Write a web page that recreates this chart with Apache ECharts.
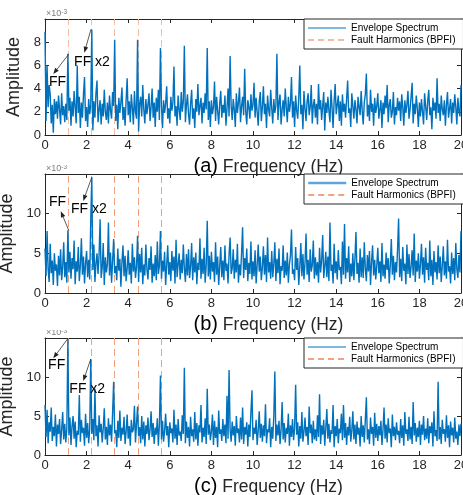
<!DOCTYPE html>
<html>
<head>
<meta charset="utf-8">
<script src="https://cdn.jsdelivr.net/npm/echarts@6/dist/echarts.min.js"></script>
<style>
  body { margin: 0; background: #fff; overflow: hidden; }
  .panel { position: absolute; left: 0; width: 463px; height: 180px; }
</style>
</head>
<body>
<div id="pa" class="panel" style="top:0"></div>
<div id="pb" class="panel" style="top:165px"></div>
<div id="pc" class="panel" style="top:330px;height:165px"></div>
<script>
// frequency step of the spectra (Hz), 0..20 Hz
var df = 0.05;
var xTicks = [0, 2, 4, 6, 8, 10, 12, 14, 16, 18, 20];
// BPFI fault harmonics (Hz)
var harmonics = [1.115, 2.23, 3.345, 4.46, 5.575];

// envelope spectra, amplitude x 10^-3, one row = 1 Hz
var specA = [
  8.9,1.2,6.0,2.4,4.3,3.5,1.0,2.6,0.2,3.1,1.8,2.9,1.4,3.4,2.2,0.9,3.6,1.7,2.5,1.1,
  2.7,1.3,7.0,2.1,3.2,0.8,2.9,1.6,3.8,2.4,1.0,6.0,1.9,3.3,0.6,2.8,1.5,3.5,5.0,1.2,
  2.4,0.7,3.1,1.8,2.6,9.1,0.4,2.9,1.5,3.6,4.7,1.1,2.2,3.0,0.9,2.7,1.6,3.9,2.0,1.3,
  2.8,1.0,3.4,2.1,1.4,3.7,2.5,8.2,1.2,2.6,0.5,3.2,1.9,2.8,4.1,1.3,2.4,0.8,3.0,4.9,
  1.7,2.9,1.1,3.5,2.3,0.9,3.8,2.0,1.4,8.2,0.3,2.7,3.3,1.6,4.3,2.2,1.0,3.1,1.8,2.6,
  3.6,1.2,2.4,4.0,1.5,2.8,0.7,3.2,2.0,3.9,1.3,7.5,2.5,0.6,3.0,1.9,2.7,4.2,1.4,2.3,
  1.0,3.3,2.1,2.8,5.9,1.6,2.5,0.8,3.4,2.2,1.3,3.7,2.0,2.9,7.7,1.1,2.6,3.5,1.8,0.9,
  2.7,3.9,1.4,2.3,0.6,3.1,2.0,4.4,1.7,2.5,3.2,1.0,2.8,1.9,3.6,2.2,7.5,1.3,2.9,0.7,
  3.0,1.8,2.4,4.6,1.2,3.3,2.1,0.9,2.7,3.8,1.5,2.6,1.9,3.4,0.8,2.3,4.0,1.6,6.8,2.5,
  1.3,3.1,2.2,0.7,3.6,1.9,2.8,4.1,1.1,2.5,3.3,1.7,5.7,2.0,0.9,3.0,2.4,1.4,3.5,2.1,
  2.6,4.5,1.5,3.2,2.0,0.8,2.9,3.7,1.2,2.4,4.2,1.8,2.7,0.6,3.4,2.2,1.6,3.9,2.3,1.0,
  3.1,1.9,2.5,7.0,1.3,2.8,3.5,0.9,2.2,3.0,1.6,4.0,2.4,1.1,3.3,2.0,2.7,5.0,1.5,2.9,
  0.7,3.4,2.1,1.4,3.2,6.0,1.8,2.6,0.5,3.8,2.3,1.2,2.9,3.6,1.7,2.4,4.3,1.0,2.6,3.1,
  1.5,2.7,0.9,4.4,2.2,3.0,1.3,2.5,3.7,0.4,2.8,1.9,3.3,2.1,1.1,3.9,2.4,0.6,2.9,4.4,
  1.8,2.6,3.4,1.2,2.9,0.8,3.5,2.0,2.7,1.5,3.1,4.7,1.9,2.3,0.7,3.6,2.5,1.4,3.0,2.2,
  1.0,3.3,2.4,1.7,3.8,2.1,0.9,2.8,3.5,5.3,1.6,2.6,1.2,3.9,2.0,2.7,0.8,3.2,1.9,2.5,
  3.6,1.4,2.2,3.0,0.6,2.8,1.8,3.4,2.3,4.3,1.1,2.6,3.1,1.5,2.0,3.7,0.9,2.4,1.7,3.2,
  2.1,2.9,1.2,3.5,2.4,0.8,3.0,1.9,2.6,3.8,1.4,2.2,3.3,4.5,1.0,2.7,1.8,3.4,2.3,0.7,
  2.8,1.6,3.1,2.0,0.9,3.6,2.5,1.3,2.9,3.9,1.7,2.4,0.5,3.2,2.1,2.8,1.4,4.9,1.9,2.7,
  1.2,3.4,2.2,1.7,3.0,0.8,2.6,3.7,1.5,2.3,3.1,1.0,2.8,1.9,3.5,2.4,0.9,3.2,2.0,1.6,
  4.3
];
var specB = [
  5.6,2.1,7.8,3.0,1.4,6.2,2.5,4.1,1.0,5.0,2.8,3.6,0.9,4.7,2.2,5.5,1.6,3.3,6.4,2.0,
  3.9,1.3,7.9,2.6,5.2,1.8,4.4,3.0,6.6,1.1,4.0,2.7,5.8,1.5,3.5,6.9,2.3,4.6,1.2,3.8,
  5.3,2.0,4.2,1.7,9.3,14.6,2.9,6.1,1.4,3.7,5.0,2.4,4.8,9.3,1.9,3.2,6.3,1.0,4.5,2.6,
  3.6,8.9,2.2,5.1,1.3,4.0,6.8,2.5,3.4,1.6,5.6,2.8,4.3,0.8,3.9,6.0,2.1,4.7,1.5,3.1,
  5.4,2.3,3.8,1.2,6.2,2.7,4.5,1.9,3.3,7.2,1.4,4.9,2.6,5.7,1.1,3.6,2.2,6.1,3.0,1.7,
  4.4,2.9,5.9,1.3,3.7,2.1,4.8,1.6,6.5,2.4,3.4,7.8,1.8,4.1,2.7,5.2,1.0,3.5,6.0,2.3,
  3.9,1.5,5.3,2.8,4.6,1.2,6.7,2.0,3.6,5.0,1.7,4.2,2.5,6.1,3.1,1.4,4.9,2.2,5.5,1.9,
  3.3,6.3,1.6,4.5,2.6,5.1,1.1,3.8,2.9,6.9,1.8,4.3,2.4,5.7,1.3,3.5,9.1,2.1,4.7,1.7,
  5.2,2.7,3.9,1.4,6.4,2.3,4.6,1.0,3.4,5.8,2.0,4.1,1.6,6.0,2.8,3.7,1.2,4.9,7.0,2.4,
  3.1,5.5,1.8,4.2,2.6,6.2,1.3,3.6,2.2,5.0,8.3,1.9,4.4,2.9,5.6,1.5,3.8,2.4,6.5,1.7,
  4.0,2.1,5.4,1.2,3.5,6.1,2.7,4.6,1.6,3.2,5.9,2.3,4.8,1.4,7.0,2.6,3.9,1.8,5.3,2.0,
  3.7,6.4,1.5,4.3,2.5,5.6,1.1,3.4,2.8,6.0,1.9,4.1,2.2,5.1,1.3,3.6,4.7,8.0,2.4,3.0,
  1.6,5.8,2.9,4.4,1.0,3.3,6.3,2.1,4.9,1.7,3.8,7.5,2.3,4.2,1.4,5.5,2.7,3.5,6.6,1.8,
  4.5,2.2,3.9,1.3,5.7,2.6,4.1,7.3,1.9,3.4,5.2,2.0,4.6,1.5,8.9,2.8,3.6,1.2,6.2,2.5,
  4.0,1.7,5.4,2.9,3.3,1.1,6.5,2.3,8.7,1.8,4.4,2.6,5.9,1.4,3.7,2.1,5.0,1.6,4.3,7.7,
  2.4,3.8,1.3,5.6,2.0,4.5,1.9,6.4,3.1,1.5,4.8,2.7,5.3,1.0,3.9,6.0,2.2,4.2,1.7,3.4,
  5.7,2.5,4.0,1.4,6.3,2.1,3.6,1.8,5.1,2.9,4.4,1.2,3.5,6.8,2.3,4.7,1.6,3.9,2.6,5.5,
  9.4,2.0,4.3,1.5,5.8,2.8,3.7,1.1,6.1,2.4,4.9,1.9,3.3,5.4,2.2,7.5,1.4,4.1,2.7,5.0,
  1.8,3.6,6.2,2.3,4.5,1.3,5.7,2.9,3.8,1.6,6.6,2.1,4.2,1.0,5.3,2.6,3.9,1.7,6.0,2.5,
  4.6,1.4,3.5,5.9,2.2,4.0,1.8,6.7,2.7,3.4,1.2,5.1,2.4,4.4,1.6,6.3,3.0,1.9,4.8,2.6,
  7.8
];
var specC = [
  6.4,2.3,5.8,1.5,4.2,3.0,6.1,1.8,3.6,2.4,5.2,1.1,3.9,2.7,4.6,1.4,3.2,5.5,2.0,4.0,
  1.6,3.4,14.9,2.5,4.8,1.3,3.7,5.0,2.1,4.3,1.0,3.1,2.6,7.7,1.7,4.5,2.8,3.5,1.2,5.3,
  2.2,4.1,1.5,3.3,12.3,2.7,4.6,1.9,8.5,2.4,3.8,1.1,5.1,2.9,4.0,1.6,3.4,6.0,2.0,3.6,
  1.3,4.7,2.5,3.9,1.7,5.4,9.4,2.8,3.2,1.0,4.4,2.2,5.7,1.8,3.5,2.6,4.9,1.4,3.0,5.2,
  2.1,3.7,1.2,4.5,2.9,3.3,6.3,1.6,4.0,6.2,2.4,3.6,1.5,5.0,2.0,4.3,1.1,3.8,2.7,4.8,
  1.9,3.2,5.6,2.3,4.1,1.4,3.5,2.6,4.7,1.2,3.9,10.2,2.0,4.4,1.7,3.1,5.3,2.5,3.7,1.0,
  4.2,2.8,3.4,1.6,5.8,2.1,3.9,1.3,4.6,2.5,3.0,1.8,5.1,2.7,11.2,1.5,4.3,2.2,3.6,1.1,
  4.9,2.4,3.3,1.7,5.5,2.0,4.1,1.2,3.8,2.9,6.4,1.6,3.5,2.3,4.7,1.4,8.5,2.6,3.9,1.9,
  3.0,5.2,1.3,4.4,2.2,3.6,1.0,5.7,2.7,3.3,1.8,4.6,2.4,3.9,1.5,7.6,2.1,10.9,3.2,1.7,
  4.3,2.5,3.7,1.2,5.0,2.8,3.4,1.6,4.8,2.0,6.1,1.4,3.6,2.6,4.2,1.1,3.9,2.3,5.4,8.3,
  1.9,3.5,2.7,4.5,1.3,3.1,5.6,2.2,4.0,1.7,3.8,2.4,6.5,1.5,3.3,2.9,4.7,1.0,3.6,2.1,
  5.0,10.7,1.8,3.9,2.5,4.4,1.4,3.2,6.8,2.0,4.1,1.6,3.5,2.7,5.3,1.2,3.8,2.3,4.6,1.9,
  3.4,9.0,2.6,4.2,1.1,3.7,2.1,5.5,1.7,3.0,4.8,2.4,3.6,1.3,6.2,2.8,3.9,1.5,4.4,2.0,
  3.3,1.8,5.1,2.3,7.8,1.4,3.8,2.6,4.5,1.2,3.5,5.9,2.1,4.0,1.6,3.2,2.7,6.4,1.0,3.7,
  2.4,4.6,1.5,3.4,2.8,5.3,1.9,6.4,2.2,4.1,1.3,3.6,2.5,4.9,1.7,3.1,5.6,2.0,3.9,1.4,
  4.3,2.6,3.5,1.1,5.0,2.3,3.8,1.6,4.5,7.4,2.0,3.3,1.4,4.8,2.7,3.6,1.2,5.4,2.2,4.0,
  1.8,3.7,2.5,4.4,1.3,3.2,6.1,2.1,3.9,1.6,4.7,2.8,3.4,1.0,5.2,2.4,3.6,1.9,4.2,2.6,
  3.1,1.5,4.6,2.2,3.8,1.2,5.5,2.7,3.3,1.8,4.9,2.0,3.6,1.4,6.8,2.5,4.1,1.7,3.5,2.3,
  4.4,1.3,3.9,2.6,5.0,1.9,3.4,2.1,4.7,1.5,3.7,2.8,4.2,1.1,5.6,2.4,3.2,1.8,9.4,2.0,
  3.6,1.4,4.5,2.7,3.3,1.7,5.1,2.2,3.8,1.0,4.3,2.5,3.5,1.6,4.8,2.1,3.0,1.3,3.9,2.4,
  4.0
];

// arrow annotations in data units [Hz, x10^-3]
var notesA = [
  { text: 'FF',    at: [0.60, 4.57], from: [1.14, 6.96], to: [0.40, 5.26] },
  { text: 'FF x2', at: [2.26, 6.28], from: [2.21, 9.11], to: [1.89, 7.09] }
];
var notesB = [
  { text: 'FF',    at: [0.60, 11.4], from: [1.15, 7.84], to: [0.76, 10.3] },
  { text: 'FF x2', at: [2.11, 10.6], from: [2.25, 14.6], to: [1.84, 11.6] }
];
var notesC = [
  { text: 'FF',    at: [0.56, 11.5], from: [1.09, 14.9], to: [0.40, 12.4] },
  { text: 'FF x2', at: [2.03, 8.4],  from: [2.20, 12.3], to: [1.84, 9.5] }
];

var FONT = 'Liberation Sans, Arial, Helvetica, sans-serif';
var INK = '#262626';

function drawPanel(id, p) {
  var chart = echarts.init(document.getElementById(id));
  var pts = p.values.map(function (v, i) { return [+(i * df).toFixed(2), v]; });
  var boxAxis = {
    type: 'value', min: 0, max: 20, interval: 2,
    axisLine: { onZero: false, lineStyle: { color: INK, width: 1 } },
    axisTick: { inside: true, length: 4, lineStyle: { color: INK } },
    splitLine: { show: false }
  };
  var noDot = { color: 'rgba(0,0,0,0)', borderWidth: 0, opacity: 0 };
  chart.setOption({
    animation: false,
    grid: { left: 45, top: p.top, width: 416, height: p.height,
      outerBoundsMode: 'none', containLabel: false },
    legend: {
      left: 304, top: p.top, orient: 'vertical',
      itemWidth: 38, itemHeight: 10, itemGap: 2,
      padding: [4, 8, 4, 3],
      borderColor: INK, borderWidth: 1, backgroundColor: '#fff',
      textStyle: { fontSize: 10, color: '#000', fontFamily: FONT },
      data: [
        { name: 'Envelope Spectrum', lineStyle: p.specLegend, itemStyle: noDot },
        { name: 'Fault Harmonics (BPFI)', itemStyle: noDot }
      ]
    },
    xAxis: [
      Object.assign({}, boxAxis, {
        position: 'bottom',
        axisLabel: { fontSize: 13, color: INK, margin: 4, fontFamily: FONT,
          showMaxLabel: true },
        name: '{p|' + p.tag + '}{f| Frequency (Hz)}',
        nameLocation: 'middle', nameGap: 6,
        nameTextStyle: {
          padding: [0, 0, 0, 31],
          rich: {
            p: { fontSize: 20, color: '#000', fontFamily: FONT },
            f: { fontSize: 17.5, color: INK, fontFamily: FONT }
          }
        }
      }),
      Object.assign({}, boxAxis, { position: 'top', axisLabel: { show: false } })
    ],
    yAxis: [
      {
        type: 'value', min: 0, max: p.yMax, interval: p.yStep,
        axisLine: { show: true, onZero: false, lineStyle: { color: INK, width: 1 } },
        axisTick: { show: true, inside: true, length: 4, lineStyle: { color: INK } },
        splitLine: { show: false },
        axisLabel: { fontSize: 13, color: INK, margin: 4, fontFamily: FONT, showMaxLabel: false },
        name: 'Amplitude', nameLocation: 'middle', nameGap: 20,
        nameTextStyle: { fontSize: 18, color: INK, fontFamily: FONT }
      },
      {
        type: 'value', min: 0, max: p.yMax, interval: p.yStep, position: 'right',
        axisLine: { show: true, onZero: false, lineStyle: { color: INK, width: 1 } },
        axisTick: { show: true, inside: true, length: 4, lineStyle: { color: INK } },
        splitLine: { show: false },
        axisLabel: { show: false }
      }
    ],
    series: [
      {
        name: 'Fault Harmonics (BPFI)', type: 'line', data: [], symbol: 'none', z: 1,
        lineStyle: { color: p.harmColor, width: 1, type: [6, 4] },
        itemStyle: { color: p.harmColor },
        markLine: {
          silent: true, z: 1, symbol: ['none', 'none'], label: { show: false },
          lineStyle: { color: p.harmColor, width: 1, type: [7, 4] },
          data: harmonics.map(function (h) { return { xAxis: h }; })
        }
      },
      {
        name: 'Envelope Spectrum', type: 'line', data: pts, z: 3,
        symbol: 'none', showSymbol: false, sampling: null,
        lineStyle: { color: '#0072BD', width: 1.4 },
        itemStyle: { color: '#0072BD' }
      }
    ]
  });

  // annotations: arrows + labels, placed from data coordinates
  var g = [];
  p.notes.forEach(function (n) {
    var a = chart.convertToPixel({ gridIndex: 0 }, n.from);
    var b = chart.convertToPixel({ gridIndex: 0 }, n.to);
    var t = chart.convertToPixel({ gridIndex: 0 }, n.at);
    var dx = b[0] - a[0], dy = b[1] - a[1];
    var len = Math.sqrt(dx * dx + dy * dy);
    var ux = dx / len, uy = dy / len;
    var bx = b[0] - ux * 6, by = b[1] - uy * 6;
    g.push({ type: 'line', z: 10, shape: { x1: a[0], y1: a[1], x2: bx, y2: by },
      style: { stroke: '#333', lineWidth: 0.8 } });
    g.push({ type: 'polygon', z: 10,
      shape: { points: [[b[0], b[1]], [bx - uy * 2.3, by + ux * 2.3], [bx + uy * 2.3, by - ux * 2.3]] },
      style: { fill: '#222' } });
    g.push({ type: 'text', z: 10, x: t[0], y: t[1],
      style: { text: n.text, fontSize: 14, fontFamily: FONT, fill: '#000',
        align: 'center', verticalAlign: 'middle' } });
  });
  var c = chart.convertToPixel({ gridIndex: 0 }, [0, p.yMax]);
  g.push({ type: 'text', x: c[0] + 1, y: c[1] - 1,
    style: { text: '{m|×10}{e|-3}', verticalAlign: 'bottom', align: 'left',
      rich: {
        m: { fontSize: 9, fill: '#7f7f7f', fontFamily: FONT },
        e: { fontSize: 6.5, fill: '#7f7f7f', fontFamily: FONT, verticalAlign: 'top' }
      } } });
  chart.setOption({ graphic: g });
}

drawPanel('pa', { values: specA, yMax: 10, yStep: 2, top: 19, height: 116, tag: '(a)',
  harmColor: '#F6B9A1', specLegend: { color: '#0072BD', width: 1 }, notes: notesA });
drawPanel('pb', { values: specB, yMax: 15, yStep: 5, top: 9, height: 119, tag: '(b)',
  harmColor: '#F2A27E', specLegend: { color: '#5FA2DC', width: 2.5 }, notes: notesB });
drawPanel('pc', { values: specC, yMax: 15, yStep: 5, top: 8, height: 117, tag: '(c)',
  harmColor: '#F2A27E', specLegend: { color: '#0072BD', width: 1 }, notes: notesC });
</script>
</body>
</html>
